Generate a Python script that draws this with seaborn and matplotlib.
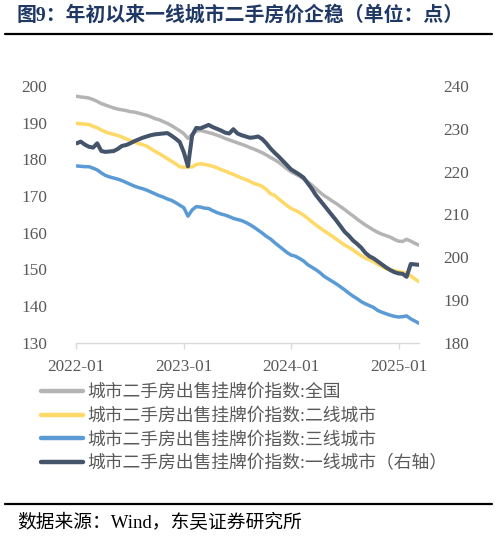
import numpy as np
import pandas as pd
import matplotlib
matplotlib.use("Agg")
import matplotlib.pyplot as plt
import matplotlib.dates as mdates
from matplotlib.lines import Line2D
import seaborn as sns

# ---------------- data (biweekly readings) ----------------
dates = pd.date_range("2022-01-03", periods=84, freq="14D")

national = [197.2, 197.0, 196.9, 196.7, 196.3, 195.8, 195.2, 194.8, 194.4, 194.0,
            193.7, 193.5, 193.3, 193.0, 192.9, 192.6, 192.3, 192.0, 191.6, 191.1,
            190.8, 190.3, 189.8, 189.2, 188.5, 187.8, 187.0, 185.7, 186.8, 187.7,
            187.9, 187.6, 187.3, 187.0, 186.6, 186.2, 185.7, 185.3, 184.9, 184.5,
            184.1, 183.7, 183.2, 182.8, 182.3, 181.8, 181.2, 180.5, 179.9, 179.2,
            178.3, 177.4, 176.6, 176.0, 175.4, 174.7, 173.9, 173.0, 172.0, 171.0,
            170.1, 169.4, 168.6, 167.9, 167.1, 166.3, 165.4, 164.6, 163.7, 162.9,
            162.1, 161.4, 160.7, 160.1, 159.6, 159.2, 158.8, 158.2, 157.7, 157.6,
            158.2, 157.7, 157.1, 156.6]

tier2 = [189.8, 189.7, 189.6, 189.5, 189.0, 188.6, 188.0, 187.5, 187.1, 186.8,
         186.5, 186.1, 185.6, 185.1, 184.7, 184.3, 184.0, 183.6, 182.9, 182.2,
         181.6, 180.9, 180.2, 179.5, 178.8, 178.0, 177.8, 178.0, 177.9, 178.6,
         178.8, 178.6, 178.4, 178.1, 177.7, 177.2, 176.8, 176.3, 175.9, 175.4,
         174.9, 174.5, 174.0, 173.4, 173.1, 172.6, 171.8, 170.6, 170.2, 169.2,
         168.3, 167.4, 166.6, 166.1, 165.5, 164.8, 163.9, 163.0, 162.1, 161.3,
         160.5, 159.8, 159.0, 158.2, 157.4, 156.6, 156.0, 155.3, 154.5, 153.7,
         153.1, 152.6, 152.1, 151.4, 150.8, 150.2, 149.9, 149.6, 149.4, 149.2,
         148.9, 148.2, 147.4, 146.6]

tier3 = [178.2, 178.1, 178.0, 178.0, 177.6, 177.1, 176.3, 175.6, 175.2, 174.9,
         174.6, 174.2, 173.7, 173.2, 172.7, 172.3, 172.0, 171.6, 171.1, 170.6,
         170.1, 169.7, 169.2, 168.8, 168.2, 167.5, 166.8, 164.5, 166.2, 167.1,
         167.0, 166.7, 166.6, 166.0, 165.5, 165.1, 164.8, 164.4, 163.9, 163.6,
         163.3, 162.8, 162.2, 161.5, 160.7, 159.9, 159.0, 158.3, 157.3, 156.4,
         155.5, 154.6, 153.9, 153.6, 153.0, 152.3, 151.3, 150.6, 149.9, 149.1,
         148.1, 147.4, 146.7, 146.0, 145.2, 144.4, 143.5, 142.7, 142.0, 141.2,
         140.6, 140.1, 139.6, 138.8, 138.3, 137.9, 137.5, 137.2, 137.0, 137.1,
         137.3, 136.5, 135.9, 135.3]

tier1 = [226.6, 227.0, 226.3, 225.8, 225.6, 226.6, 224.8, 224.6, 224.7, 224.8,
         225.3, 226.0, 226.2, 226.6, 227.1, 227.5, 227.9, 228.2, 228.5, 228.7,
         228.8, 228.9, 229.0, 228.4, 227.7, 226.9, 224.5, 221.2, 228.4, 230.2,
         230.1, 230.5, 230.9, 230.4, 230.0, 229.6, 229.1, 228.9, 229.9, 228.9,
         228.5, 228.2, 227.9, 228.0, 228.2, 227.6, 226.6, 225.4, 224.4, 223.5,
         222.5, 221.5, 220.5, 219.9, 219.3, 218.6, 217.3, 216.0, 214.5, 213.3,
         212.1, 210.9, 209.7, 208.5, 207.2, 205.9, 205.0, 203.9, 203.1, 202.2,
         201.0, 200.2, 199.7, 199.0, 198.3, 197.6, 197.0, 196.5, 196.2, 196.1,
         195.4, 198.4, 198.3, 198.2]

labels = ["城市二手房出售挂牌价指数:全国",
          "城市二手房出售挂牌价指数:二线城市",
          "城市二手房出售挂牌价指数:三线城市",
          "城市二手房出售挂牌价指数:一线城市（右轴）"]
colors = ["#B4B4B4", "#FFD966", "#5B9BD5", "#44546A"]

left_ticks = [130, 140, 150, 160, 170, 180, 190, 200]
right_ticks = [180, 190, 200, 210, 220, 230, 240]
x_ticks = ["2022-01-01", "2023-01-01", "2024-01-01", "2025-01-01"]

title = "图9：年初以来一线城市二手房价企稳（单位：点）"
source = "数据来源：Wind，东吴证券研究所"

# ---------------- style ----------------
sns.set_theme(style="white")
FAM = ["Liberation Serif", "Noto Sans CJK SC", "DejaVu Sans"]
plt.rcParams["font.family"] = FAM
plt.rcParams["axes.unicode_minus"] = False

W, H = 498, 538
fig = plt.figure(figsize=(W / 100, H / 100), dpi=100)
fig.patch.set_facecolor("white")

ax_l, ax_r, ax_t, ax_b = 76, 419, 86, 342.7
ax = fig.add_axes([ax_l / W, 1 - ax_b / H, (ax_r - ax_l) / W, (ax_b - ax_t) / H])
ax2 = ax.twinx()

df = pd.DataFrame({"date": dates, "national": national, "tier2": tier2,
                   "tier3": tier3, "tier1": tier1})

sns.lineplot(data=df, x="date", y="national", ax=ax, color=colors[0], lw=2.5, label=labels[0], legend=False)
sns.lineplot(data=df, x="date", y="tier2", ax=ax, color=colors[1], lw=2.5, label=labels[1], legend=False)
sns.lineplot(data=df, x="date", y="tier3", ax=ax, color=colors[2], lw=2.5, label=labels[2], legend=False)
sns.lineplot(data=df, x="date", y="tier1", ax=ax2, color=colors[3], lw=2.9, label=labels[3], legend=False)

for a in (ax, ax2):
    leg = a.get_legend()
    if leg is not None:
        leg.remove()
    a.set_xlabel("")
    a.set_ylabel("")
    for s in ("top", "left", "right", "bottom"):
        a.spines[s].set_visible(False)
    a.grid(False)
    a.set_facecolor("none")

ax.spines["bottom"].set_visible(True)
ax.spines["bottom"].set_color("#D9D9D9")
ax.spines["bottom"].set_linewidth(1.0)

ax.set_ylim(130, 200)
ax2.set_ylim(180, 240)
ax.set_yticks(left_ticks)
ax2.set_yticks(right_ticks)
ax.set_xlim(pd.Timestamp("2022-01-01"), dates[-1])
ax.set_xticks(pd.to_datetime(x_ticks))
ax.xaxis.set_major_formatter(mdates.DateFormatter("%Y-%m"))

tick_color = "#595959"
ax.tick_params(axis="y", left=False, right=False, labelsize=12.4, labelcolor=tick_color, pad=15)
ax2.tick_params(axis="y", left=False, right=False, labelsize=12.4, labelcolor=tick_color, pad=11.5)
ax.tick_params(axis="x", bottom=True, length=4, width=1, color="#D9D9D9",
               labelsize=12.4, labelcolor=tick_color, pad=8, direction="out")
ax2.tick_params(axis="x", bottom=False, labelbottom=False)

# ---------------- legend ----------------
handles = [Line2D([0], [0], color=c, lw=3.2) for c in colors]
fig.legend(handles, labels, loc="upper left", bbox_to_anchor=(41 / W, 1 - 384 / H),
           bbox_transform=fig.transFigure, frameon=False, ncol=1,
           prop={"family": FAM, "size": 12.8}, labelcolor="#595959",
           handlelength=2.35, handletextpad=0.25, labelspacing=0.38,
           borderpad=0, borderaxespad=0)

# ---------------- title / rules / source ----------------
fig.text(17 / W, 1 - 15.5 / H, title, ha="left", va="center", fontsize=14.3,
         fontweight="bold", color="#1F3864", family=FAM)
fig.add_artist(Line2D([5 / W, 492 / W], [1 - 34 / H] * 2, color="black", lw=1.6,
                      transform=fig.transFigure))
fig.add_artist(Line2D([5 / W, 492 / W], [1 - 504 / H] * 2, color="black", lw=1.6,
                      transform=fig.transFigure))
fig.text(17 / W, 1 - 523 / H, source, ha="left", va="center", fontsize=13.5,
         color="black", family=FAM)

fig.savefig("out.png", dpi=100, facecolor="white")
